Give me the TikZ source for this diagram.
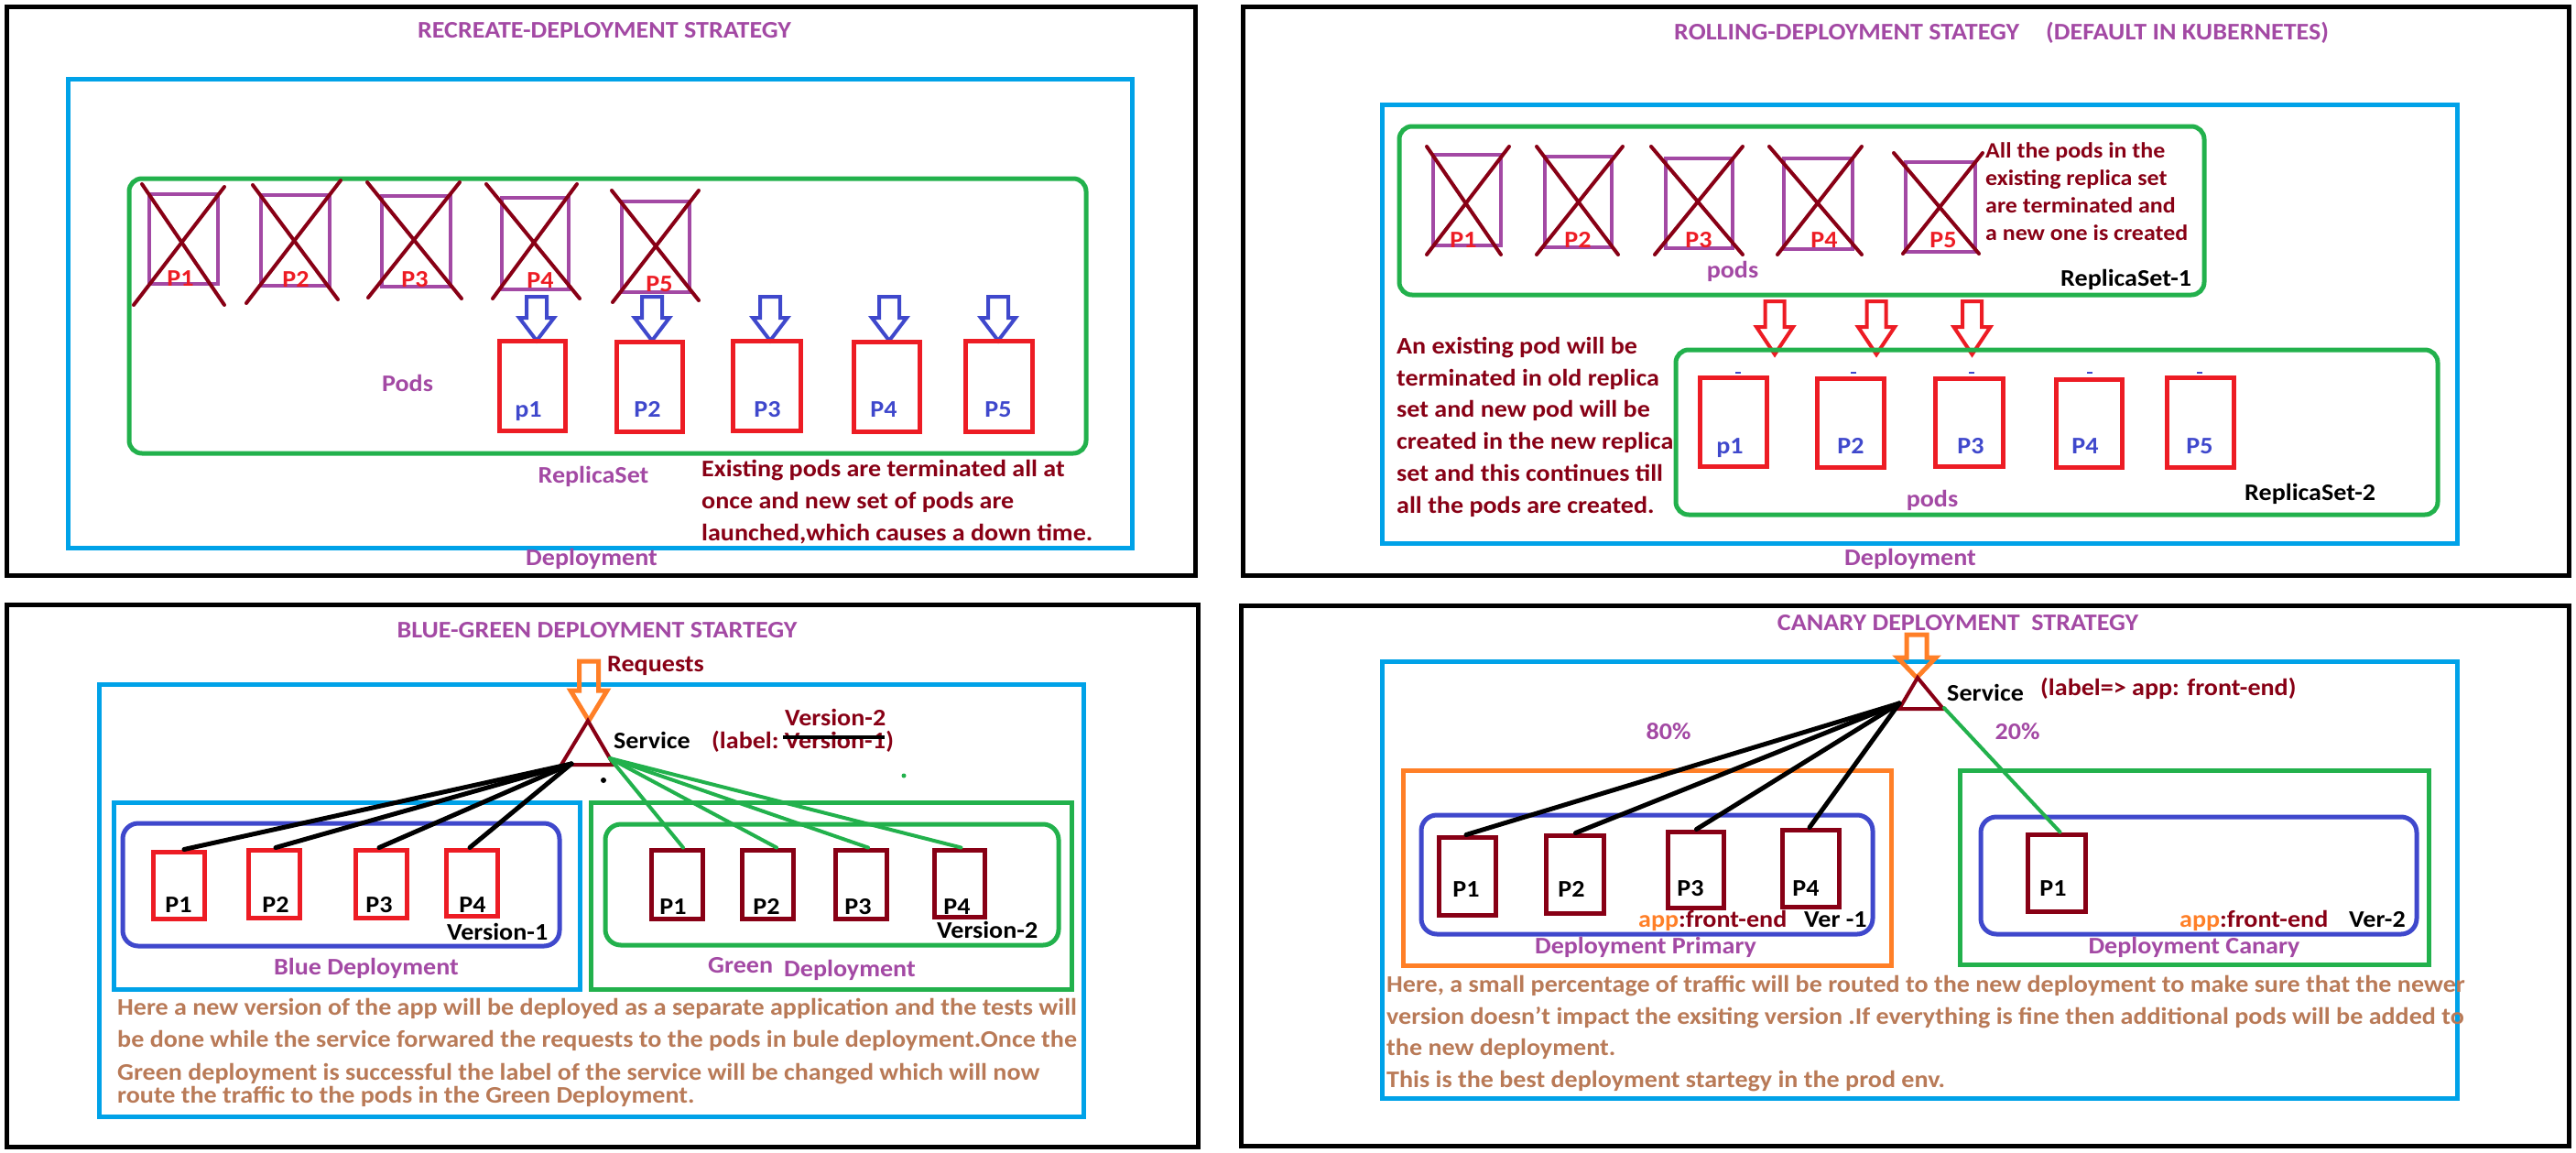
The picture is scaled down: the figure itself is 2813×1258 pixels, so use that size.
\documentclass[tikz,border=0pt]{standalone}
\usepackage{fontspec}
\setmainfont{Carlito}[FakeStretch=1.08]
\definecolor{ppurple}{HTML}{A349A4}
\definecolor{dred}{HTML}{880015}
\definecolor{pred}{HTML}{ED1C24}
\definecolor{pblue}{HTML}{3F48CC}
\definecolor{lblue}{HTML}{00A2E8}
\definecolor{pgreen}{HTML}{22B14C}
\definecolor{porange}{HTML}{FF7F27}
\definecolor{pbrown}{HTML}{B97A57}
\newcommand\fsz[1]{\fontsize{#1}{#1}\selectfont}
% pod box as a named node: style, name, x1, y1, x2, y2
\newcommand\podbox[6]{\node[#1, minimum width={#5-#3}, minimum height={#6-#4}] (#2) at ({(#3+#5)/2},{(#4+#6)/2}) {};}
% hollow arrow: style, cx, top, headstart, apex, shaft half, head half
\newcommand\hollowarrow[7]{\draw[#1] (#2-#6,#3) -- (#2+#6,#3) -- (#2+#6,#4) -- (#2+#7,#4) -- (#2,#5) -- (#2-#7,#4) -- (#2-#6,#4) -- cycle;}
\tikzset{
  panel/.style={draw=black, line width=5},
  deploy/.style={draw=lblue, line width=5},
  rsbox/.style={draw=pgreen, line width=5, rounded corners=14},
  bluebox/.style={draw=pblue, line width=5, rounded corners=17},
  oldpod/.style={draw=ppurple, line width=3.5, inner sep=0, rectangle},
  newpod/.style={draw=pred, line width=5, inner sep=0, rectangle},
  drpod/.style={draw=dred, line width=5, inner sep=0, rectangle},
  cross/.style={draw=dred, line width=4, line cap=round},
  txt/.style={inner sep=0pt, anchor=base, font=\fsz{26}\bfseries},
  txtl/.style={txt, anchor=base west},
  ttl/.style={txt, text=ppurple},
  purp/.style={txt, text=ppurple},
  drt/.style={txtl, text=dred},
  brt/.style={txtl, text=pbrown},
  arrb/.style={draw=pblue, line width=4, line join=miter},
  arrr/.style={draw=pred, line width=4, line join=miter},
  arro/.style={draw=porange, line width=5, line join=miter},
  blk/.style={draw=black, line width=5, line cap=round},
  grn/.style={draw=pgreen, line width=4, line cap=round},
  svc/.style={draw=dred, line width=4, line join=miter},
}
\begin{document}
\begin{tikzpicture}[x=1pt,y=-1pt]
\useasboundingbox (0,0) rectangle (2813,1258);
\fill[white] (0,0) rectangle (2813,1258);
% ---------- panels ----------
\draw[panel] (7,7) rectangle (1305,628);
\draw[panel] (1357,7) rectangle (2805,628);
\draw[panel] (7,660) rectangle (1308,1252);
\draw[panel] (1355,661) rectangle (2805,1251);

% =============== TOP LEFT: RECREATE ===============
\node[ttl] (tlT) at (660,41) {RECREATE-DEPLOYMENT STRATEGY};
\draw[deploy] (74,86) rectangle (1236,598);
\draw[rsbox] (141,195) rectangle (1186,495);
\podbox{oldpod}{tlo1}{163}{212}{238}{310}
\podbox{oldpod}{tlo2}{285}{213}{360}{312}
\podbox{oldpod}{tlo3}{417}{214}{492}{313}
\podbox{oldpod}{tlo4}{548}{216}{621}{316}
\podbox{oldpod}{tlo5}{679}{220}{753}{319}
\node[txt, text=pred] (tlol1) at (197,312) {P1};
\node[txt, text=pred] (tlol2) at (323,313) {P2};
\node[txt, text=pred] (tlol3) at (453,313) {P3};
\node[txt, text=pred] (tlol4) at (590,314) {P4};
\node[txt, text=pred] (tlol5) at (720,318) {P5};
\draw[cross] (155,201) -- (245,333); \draw[cross] (245,204) -- (146,333);
\draw[cross] (276,202) -- (369,327); \draw[cross] (372,197) -- (269,331);
\draw[cross] (401,199) -- (504,326); \draw[cross] (502,199) -- (402,325);
\draw[cross] (531,201) -- (633,326); \draw[cross] (630,201) -- (538,326);
\draw[cross] (668,208) -- (763,328); \draw[cross] (763,208) -- (669,330);
\hollowarrow{arrb}{586}{324}{347}{372}{11}{19}
\hollowarrow{arrb}{712}{324}{347}{372}{11}{19}
\hollowarrow{arrb}{841}{324}{347}{372}{11}{19}
\hollowarrow{arrb}{971}{324}{347}{372}{11}{19}
\hollowarrow{arrb}{1090}{324}{347}{372}{11}{19}
\podbox{newpod}{tln1}{545}{372}{617}{470}
\podbox{newpod}{tln2}{673}{373}{745}{471}
\podbox{newpod}{tln3}{800}{372}{874}{470}
\podbox{newpod}{tln4}{932}{373}{1004}{471}
\podbox{newpod}{tln5}{1054}{372}{1127}{471}
\node[txt, text=pblue] (tlnl1) at (577,455) {p1};
\node[txt, text=pblue] (tlnl2) at (707,455) {P2};
\node[txt, text=pblue] (tlnl3) at (838,455) {P3};
\node[txt, text=pblue] (tlnl4) at (965,455) {P4};
\node[txt, text=pblue] (tlnl5) at (1090,455) {P5};
\node[purp] (tlpods) at (445,427) {Pods};
\node[purp] (tlrs) at (648,527) {ReplicaSet};
\node[drt] (tlx1) at (766,520) {Existing pods are terminated all at};
\node[drt] (tlx2) at (766,555) {once and new set of pods are};
\node[drt] (tlx3) at (766,590) {launched,which causes a down time.};
\node[purp] (tldep) at (646,617) {Deployment};

% =============== TOP RIGHT: ROLLING ===============
\node[ttl, anchor=base west] (trT1) at (1828,43) {ROLLING-DEPLOYMENT STATEGY};
\node[ttl, anchor=base west] (trT2) at (2234,43) {(DEFAULT IN KUBERNETES)};
\draw[deploy] (1509,114) rectangle (2683,593);
\draw[rsbox] (1528,138) rectangle (2407,322);
\podbox{oldpod}{tro1}{1565}{169}{1639}{268}
\podbox{oldpod}{tro2}{1687}{171}{1760}{270}
\podbox{oldpod}{tro3}{1819}{173}{1892}{271}
\podbox{oldpod}{tro4}{1948}{173}{2023}{272}
\podbox{oldpod}{tro5}{2081}{177}{2157}{275}
\node[txt, text=pred] (trol1) at (1598,270) {P1};
\node[txt, text=pred] (trol2) at (1723,270) {P2};
\node[txt, text=pred] (trol3) at (1855,270) {P3};
\node[txt, text=pred] (trol4) at (1992,270) {P4};
\node[txt, text=pred] (trol5) at (2122,270) {P5};
\draw[cross] (1558,160) -- (1639,278); \draw[cross] (1648,160) -- (1558,278);
\draw[cross] (1678,160) -- (1767,278); \draw[cross] (1772,160) -- (1678,278);
\draw[cross] (1803,160) -- (1903,278); \draw[cross] (1903,160) -- (1807,278);
\draw[cross] (1932,160) -- (2033,278); \draw[cross] (2033,160) -- (1941,278);
\draw[cross] (2068,167) -- (2161,277); \draw[cross] (2165,167) -- (2078,277);
\node[drt, font=\fsz{24}\bfseries] (trx1) at (2168,172) {All the pods in the};
\node[drt, font=\fsz{24}\bfseries] (trx2) at (2168,202) {existing replica set};
\node[drt, font=\fsz{24}\bfseries] (trx3) at (2168,232) {are terminated and};
\node[drt, font=\fsz{24}\bfseries] (trx4) at (2168,262) {a new one is created};
\node[purp] (trpods1) at (1892,303) {pods};
\node[txtl] (trrs1) at (2250,312) {ReplicaSet-1};
\hollowarrow{arrr}{1938}{329}{357}{387}{10.5}{20}
\hollowarrow{arrr}{2049}{329}{357}{387}{10.5}{20}
\hollowarrow{arrr}{2153.5}{329}{357}{387}{10.5}{20}
\draw[rsbox] (1830,382) rectangle (2662,562);
\foreach \xx in {1898,2024,2153,2282,2402} \draw[pblue, line width=2] (\xx-3,407) -- (\xx+3,407);
\podbox{newpod}{trn1}{1856}{412}{1929}{509}
\podbox{newpod}{trn2}{1984}{413}{2057}{510}
\podbox{newpod}{trn3}{2113}{413}{2187}{509}
\podbox{newpod}{trn4}{2245}{414}{2317}{510}
\podbox{newpod}{trn5}{2366}{412}{2439}{510}
\node[txt, text=pblue] (trnl1) at (1889,495) {p1};
\node[txt, text=pblue] (trnl2) at (2021,495) {P2};
\node[txt, text=pblue] (trnl3) at (2152,495) {P3};
\node[txt, text=pblue] (trnl4) at (2277,495) {P4};
\node[txt, text=pblue] (trnl5) at (2402,495) {P5};
\node[purp] (trpods2) at (2110,553) {pods};
\node[txtl] (trrs2) at (2451,546) {ReplicaSet-2};
\node[drt] (trl1) at (1525,386) {An existing pod will be};
\node[drt] (trl2) at (1525,421) {terminated in old replica};
\node[drt] (trl3) at (1525,455) {set and new pod will be};
\node[drt] (trl4) at (1525,490) {created in the new replica};
\node[drt] (trl5) at (1525,525) {set and this continues till};
\node[drt] (trl6) at (1525,560) {all the pods are created.};
\node[purp] (trdep) at (2086,617) {Deployment};

% =============== BOTTOM LEFT: BLUE-GREEN ===============
\node[ttl] (blT) at (652,696) {BLUE-GREEN DEPLOYMENT STARTEGY};
\draw[deploy] (108,747) rectangle (1183,1219);
\draw[deploy] (124,876) rectangle (633,1080);
\draw[bluebox] (134,899) rectangle (611,1033);
\draw[draw=pgreen, line width=5] (645,876) rectangle (1170,1080);
\draw[rsbox, rounded corners=17] (661,900) rectangle (1156,1032);
\hollowarrow{arro}{643}{722}{754}{787}{10.5}{20}
\node[drt] (blreq) at (663,733) {Requests};
\draw[svc] (642,787) -- (670,835) -- (613,835) -- cycle;
\coordinate (blsrcK) at (624,834);
\coordinate (blsrcG) at (666,828);
\node[txtl] (blsvc) at (670,817) {Service};
\node[drt] (bllab) at (777,817) {(label:};
\node[drt] (blv1s) at ([xshift=6]bllab.base east) {Version-1};
\node[drt] (blclose) at (blv1s.base east) {)};
\node[drt] (blv2) at (857,792) {Version-2};
\draw[draw=black, line width=4] ([xshift=-2,yshift=12]blv1s.base west) -- ([xshift=-1,yshift=12]blv1s.base east);
\fill[black] (659,852) circle (3);
\fill[pgreen] (987,847) circle (2.5);
\podbox{newpod}{blb1}{167}{930}{223}{1003}
\podbox{newpod}{blb2}{271}{928}{327}{1002}
\podbox{newpod}{blb3}{388}{928}{444}{1002}
\podbox{newpod}{blb4}{487}{928}{543}{1000}
\node[txt] (blbl1) at (195,996) {P1};
\node[txt] (blbl2) at (301,996) {P2};
\node[txt] (blbl3) at (414,996) {P3};
\node[txt] (blbl4) at (516,996) {P4};
\node[txtl] (blv1) at (488,1026) {Version-1};
\node[purp] (blbd) at (400,1064) {Blue Deployment};
\podbox{drpod}{blg1}{711}{928}{767}{1003}
\podbox{drpod}{blg2}{810}{928}{866}{1003}
\podbox{drpod}{blg3}{912}{928}{968}{1003}
\podbox{drpod}{blg4}{1020}{928}{1075}{1001}
\node[txt] (blgl1) at (735,998) {P1};
\node[txt] (blgl2) at (837,998) {P2};
\node[txt] (blgl3) at (937,998) {P3};
\node[txt] (blgl4) at (1045,998) {P4};
\node[txtl] (blv2b) at (1023,1024) {Version-2};
\node[purp, anchor=base west] (blgd1) at (773,1062) {Green};
\node[purp, anchor=base west] (blgd2) at (856,1066) {Deployment};
\draw[blk] (blsrcK) -- ([xshift=6]blb1.north);
\draw[blk] (blsrcK) -- ([xshift=2]blb2.north);
\draw[blk] (blsrcK) -- ([xshift=-2]blb3.north);
\draw[blk] (blsrcK) -- ([xshift=-2]blb4.north);
\draw[grn] (blsrcG) -- ([xshift=7]blg1.north);
\draw[grn] (blsrcG) -- ([xshift=10]blg2.north);
\draw[grn] (blsrcG) -- ([xshift=8]blg3.north);
\draw[grn] (blsrcG) -- ([xshift=2]blg4.north);
\node[brt] (blx1) at (128,1108) {Here a new version of the app will be deployed as a separate application and the tests will};
\node[brt] (blx2) at (128,1143) {be done while the service forwared the requests to the pods in bule deployment.Once the};
\node[brt] (blx3) at (128,1179) {Green deployment is successful the label of the service will be changed which will now};
\node[brt] (blx4) at (128,1204) {route the traffic to the pods in the Green Deployment.};

% =============== BOTTOM RIGHT: CANARY ===============
\node[ttl] (brT) at (2138,688) {CANARY DEPLOYMENT\ \ STRATEGY};
\draw[deploy] (1509,722) rectangle (2683,1199);
\draw[draw=porange, line width=5] (1532,841) rectangle (2065,1054);
\draw[draw=pgreen, line width=5] (2140,841) rectangle (2652,1053);
\draw[bluebox] (1552,890) rectangle (2045,1020);
\draw[bluebox] (2163,892) rectangle (2639,1020);
\hollowarrow{arro}{2093}{693}{718}{740}{11}{21}
\draw[svc] (2094,740) -- (2122,774) -- (2074,774) -- cycle;
\coordinate (brsrcK) at (2074,768);
\coordinate (brsrcG) at (2123,773);
\node[txtl] (brsvc) at (2126,765) {Service};
\node[drt] (brlab) at (2228,759) {(label=> app: front-end)};
\node[purp] (br80) at (1822,807) {80\%};
\node[purp] (br20) at (2203,807) {20\%};
\podbox{drpod}{brp1}{1571}{914}{1633}{999}
\podbox{drpod}{brp2}{1688}{912}{1751}{997}
\podbox{drpod}{brp3}{1821}{908}{1882}{991}
\podbox{drpod}{brp4}{1946}{906}{2008}{990}
\podbox{drpod}{brc1}{2214}{911}{2277}{995}
\node[txt] (brpl1) at (1601,979) {P1};
\node[txt] (brpl2) at (1716,979) {P2};
\node[txt] (brpl3) at (1846,978) {P3};
\node[txt] (brpl4) at (1972,978) {P4};
\node[txt] (brcl1) at (2242,978) {P1};
\node[drt] (brapp1) at (1789,1012) {\textcolor{porange}{app}:front-end};
\node[txtl] (brver1) at (1970,1012) {Ver -1};
\node[drt] (brapp2) at (2380,1012) {\textcolor{porange}{app}:front-end};
\node[txtl] (brver2) at (2565,1012) {Ver-2};
\node[purp] (brdp) at (1797,1041) {Deployment Primary};
\node[purp] (brdc) at (2396,1041) {Deployment Canary};
\draw[blk] (brsrcK) -- ([xshift=-1]brp1.north);
\draw[blk] (brsrcK) -- ([xshift=1]brp2.north);
\draw[blk] (brsrcK) -- ([xshift=1]brp3.north);
\draw[blk] (brsrcK) -- ([xshift=-1]brp4.north);
\draw[grn] (brsrcG) -- ([xshift=4]brc1.north);
\node[brt] (brx1) at (1514,1083) {Here, a small percentage of traffic will be routed to the new deployment to make sure that the newer};
\node[brt] (brx2) at (1514,1118) {version doesn't impact the exsiting version .If everything is fine then additional pods will be added to};
\node[brt] (brx3) at (1514,1152) {the new deployment.};
\node[brt] (brx4) at (1514,1187) {This is the best deployment startegy in the prod env.};
\end{tikzpicture}
\end{document}
